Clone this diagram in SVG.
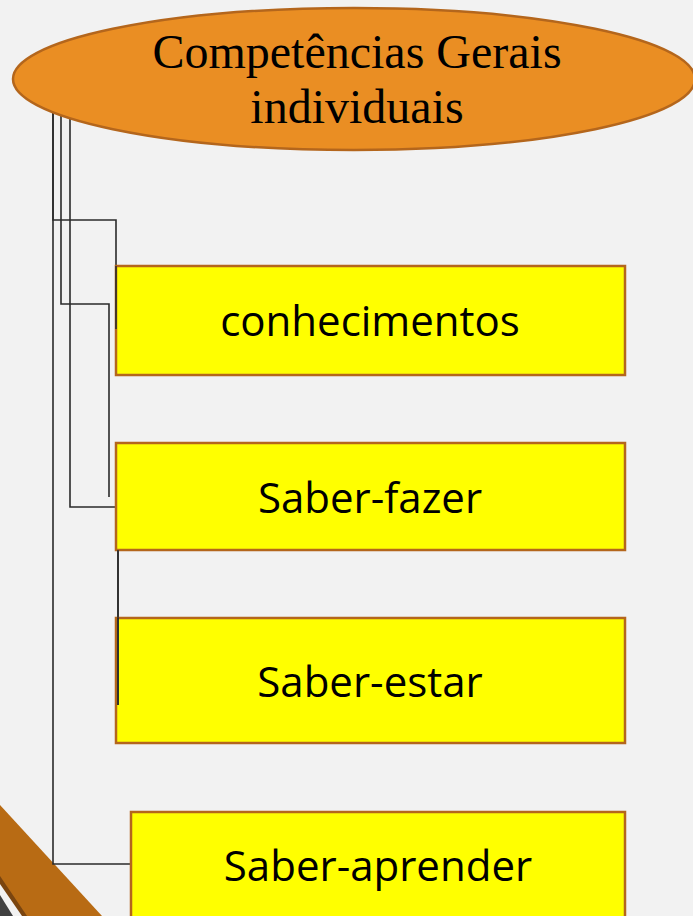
<svg xmlns="http://www.w3.org/2000/svg" width="693" height="916" viewBox="0 0 693 916">
<style>
.box{fill:#FFFF00;stroke:#B4661C;stroke-width:2.5}
.lbl{font-family:"Open Sans","Noto Sans","Liberation Sans",sans-serif;font-size:42px;fill:#000;text-anchor:middle}
.ttl{font-family:"Liberation Serif","DejaVu Serif",serif;font-size:48px;fill:#000;text-anchor:middle}
.con{fill:none;stroke:#2b2b2b;stroke-width:1.6}
</style>
<rect width="693" height="916" fill="#F2F2F2"/>
<g id="decor">
<polygon points="0,805 102,916 25,916 0,880" fill="#B86B14"/>
<polygon points="0,876 27,916 22,916 0,884" fill="#7A4510"/>
<polygon points="0,895 13,916 0,916" fill="#404040"/>
</g>
<g id="connectors">
<polyline class="con" points="53,111 53,864 131,864"/>
<polyline class="con" points="53,111 53,220 116,220 116,329"/>
<polyline class="con" points="61,111 61,304 109,304 109,497"/>
<polyline class="con" points="70,117 70,507 118,507 118,705"/>
</g>
<g id="root">
<ellipse cx="354" cy="79" rx="341" ry="71" fill="#EA8E23" stroke="#B4661C" stroke-width="2.5"/>
<text class="ttl" x="357" y="68">Competências Gerais</text>
<text class="ttl" x="357" y="123">individuais</text>
</g>
<g id="n1">
<rect class="box" x="116" y="266" width="509" height="109"/>
<text class="lbl" x="370" y="336">conhecimentos</text>
</g>
<g id="n2">
<rect class="box" x="116" y="443" width="509" height="107"/>
<text class="lbl" x="370" y="513">Saber-fazer</text>
</g>
<g id="n3">
<rect class="box" x="116" y="618" width="509" height="125"/>
<text class="lbl" x="370" y="697">Saber-estar</text>
</g>
<g id="n4">
<rect class="box" x="131" y="812" width="494" height="120"/>
<text class="lbl" x="378" y="881">Saber-aprender</text>
</g>
<g id="top-connectors-overlay">
<polyline class="con" points="116,266 116,329"/>
<polyline class="con" points="118,550 118,705"/>
<polyline class="con" points="118,618 118,705"/>
</g>
</svg>
